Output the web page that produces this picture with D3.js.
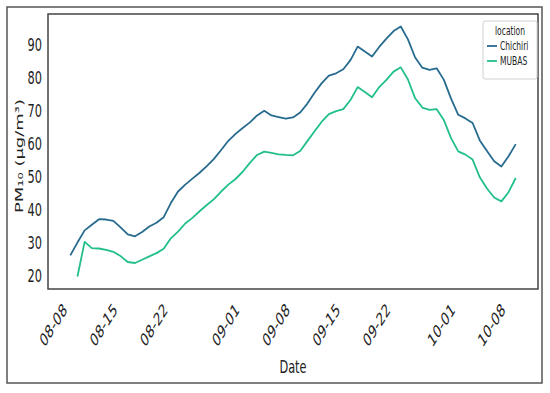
<!DOCTYPE html>
<html>
<head>
<meta charset="utf-8">
<script src="https://cdn.jsdelivr.net/npm/d3@7"></script>
<style>
  body { margin: 0; background: #fff; }
  text { font-family: "DejaVu Sans", sans-serif; fill: #222; }
</style>
</head>
<body>
<div id="chart"></div>
<script>
// daily PM10, first Chichiri value is 2022-08-08, MUBAS starts one day later
const startDate = "2022-08-08";
const chichiri = [25.9, 29.8, 33.5, 35.2, 36.9, 36.8, 36.4, 34.4, 32.3, 31.7,
  33.0, 34.7, 35.8, 37.5, 41.8, 45.3, 47.4, 49.2, 51.0, 53.0,
  55.2, 57.9, 60.7, 62.8, 64.6, 66.3, 68.4, 69.8, 68.4, 67.9,
  67.4, 67.8, 69.3, 72.0, 75.3, 78.2, 80.5, 81.2, 82.4, 85.2,
  89.3, 87.8, 86.3, 89.2, 91.7, 94.0, 95.4, 91.5, 86.0, 82.9,
  82.2, 82.7, 79.2, 73.5, 68.6, 67.5, 66.1, 60.8, 57.6, 54.5,
  52.9, 56.0, 59.7];
const mubasStart = "2022-08-09";
const mubas = [19.5, 30.0, 28.1, 28.0, 27.6, 27.0, 25.7, 23.9, 23.6,
  24.6, 25.6, 26.6, 27.9, 31.1, 33.1, 35.6, 37.3, 39.3, 41.2,
  43.0, 45.3, 47.4, 49.1, 51.3, 54.0, 56.4, 57.4, 57.0, 56.6,
  56.4, 56.3, 57.6, 60.6, 63.6, 66.5, 68.8, 69.7, 70.3, 73.1,
  77.0, 75.5, 73.9, 77.0, 79.2, 81.7, 83.0, 79.3, 73.6, 70.8,
  70.1, 70.3, 67.0, 61.5, 57.5, 56.5, 55.0, 49.6, 46.2, 43.5,
  42.3, 45.1, 49.4];
const locations = ["Chichiri", "MUBAS"];
const colors = ["#276b8f", "#22c088"];
const xTickLabels = ["08-08", "08-15", "08-22", "09-01", "09-08", "09-15", "09-22", "10-01", "10-08"];
const yTicks = [20, 30, 40, 50, 60, 70, 80, 90];

const W = 550, H = 393;
const sx = 0.63; // text is narrow in the reference
const plot = {left: 48, top: 14, right: 538, bottom: 289};

const parse = d3.timeParse("%Y-%m-%d");
function toSeries(start, vals) {
  let d0 = parse(start);
  return vals.map((v, i) => ({date: d3.timeDay.offset(d0, i), value: v}));
}
const series = [toSeries(startDate, chichiri), toSeries(mubasStart, mubas)];

const all = series.flat();
const dExt = d3.extent(all, d => d.date);
const vExt = d3.extent(all, d => d.value);
const dPad = (dExt[1] - dExt[0]) * 0.05;
const vPad = (vExt[1] - vExt[0]) * 0.05;

const x = d3.scaleTime()
  .domain([new Date(+dExt[0] - dPad), new Date(+dExt[1] + dPad)])
  .range([plot.left, plot.right]);
const y = d3.scaleLinear()
  .domain([vExt[0] - vPad, vExt[1] + vPad])
  .range([plot.bottom, plot.top]);

const svg = d3.select("#chart").append("svg")
  .attr("width", W).attr("height", H);

// outer frame
svg.append("rect")
  .attr("x", 7).attr("y", 7).attr("width", 535).attr("height", 376)
  .attr("fill", "none").attr("stroke", "#555").attr("stroke-width", 1.5);

// lines
const line = d3.line().x(d => x(d.date)).y(d => y(d.value));
svg.selectAll(".series")
  .data(series)
  .enter()
  .append("path")
  .attr("class", "series")
  .attr("d", line)
  .attr("fill", "none")
  .attr("stroke", (d, i) => colors[i])
  .attr("stroke-width", 1.8)
  .attr("stroke-linejoin", "round");

// plot frame
svg.append("rect")
  .attr("x", plot.left).attr("y", plot.top)
  .attr("width", plot.right - plot.left).attr("height", plot.bottom - plot.top)
  .attr("fill", "none").attr("stroke", "#444").attr("stroke-width", 1.5);

// y axis
const yAxis = svg.append("g")
  .attr("transform", "translate(" + plot.left + ",0)")
  .call(d3.axisLeft(y).tickValues(yTicks).tickSize(0));
yAxis.select(".domain").remove();
yAxis.selectAll("text")
  .attr("x", 0).attr("dy", "0.36em")
  .attr("font-size", 18)
  .attr("font-family", "DejaVu Sans")
  .attr("fill", "#222")
  .attr("transform", "translate(-6,0) scale(" + sx + ",1)");

// x axis
const tickDates = xTickLabels.map(s => parse("2022-" + s));
const xAxis = svg.append("g")
  .attr("transform", "translate(0," + plot.bottom + ")")
  .call(d3.axisBottom(x).tickValues(tickDates).tickFormat(d3.timeFormat("%m-%d")).tickSize(0));
xAxis.select(".domain").remove();
xAxis.selectAll("text")
  .attr("x", 0).attr("y", 0).attr("dy", 0)
  .attr("text-anchor", "end")
  .attr("font-size", 18)
  .attr("font-family", "DejaVu Sans")
  .attr("fill", "#222")
  .attr("transform", "translate(-3,22) scale(" + sx + ",1) rotate(-45)");

// axis titles
svg.append("text")
  .attr("text-anchor", "middle")
  .attr("font-size", 18)
  .attr("transform", "translate(293,373) scale(" + sx + ",1)")
  .text("Date");

svg.append("text")
  .attr("text-anchor", "middle")
  .attr("font-size", 18)
  .attr("transform", "translate(23,156) scale(" + sx + ",1) rotate(-90)")
  .text("PM₁₀ (μg/m³)");

// legend
const lg = svg.append("g").attr("transform", "translate(483,21)");
lg.append("rect")
  .attr("width", 54).attr("height", 58).attr("rx", 2)
  .attr("fill", "#fff").attr("fill-opacity", 0.85)
  .attr("stroke", "#d0d0d0").attr("stroke-width", 1);
lg.append("text")
  .attr("font-size", 12).attr("text-anchor", "middle")
  .attr("transform", "translate(27,14) scale(" + sx + ",1)")
  .text("location");
lg.selectAll(".lg_line")
  .data(locations)
  .enter()
  .append("line")
  .attr("class", "lg_line")
  .attr("x1", 4).attr("x2", 14)
  .attr("y1", (d, i) => 25 + i * 15).attr("y2", (d, i) => 25 + i * 15)
  .attr("stroke", (d, i) => colors[i]).attr("stroke-width", 1.8);
lg.selectAll(".lg_text")
  .data(locations)
  .enter()
  .append("text")
  .attr("class", "lg_text")
  .attr("font-size", 12)
  .attr("transform", (d, i) => "translate(17," + (29 + i * 15) + ") scale(" + sx + ",1)")
  .text(d => d);
</script>
</body>
</html>
